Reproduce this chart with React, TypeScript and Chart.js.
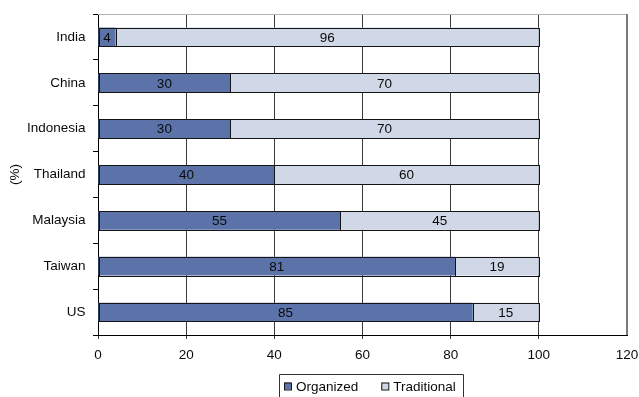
import React, { useEffect, useRef } from "react";
import { Chart, registerables } from "chart.js";

Chart.register(...registerables);

const countries = ["India", "China", "Indonesia", "Thailand", "Malaysia", "Taiwan", "US"];
const organized = [4, 30, 30, 40, 55, 81, 85];
const traditional = [96, 70, 70, 60, 45, 19, 15];
const seriesNames = ["Organized", "Traditional"];
const xTicksMax = 120;
const xStep = 20;
const yTitle = "(%)";

const FONT = "'Liberation Sans', Arial, sans-serif";
const FONT_SIZE = 13.5;
const DARK_BLUE = "#5b73a9";
const LIGHT_BLUE = "#d0d7e6";
const EDGE = "#141414";
const TEXT = "#0a0a0a";

// Crisp outlines around every bar piece, then its value in the middle
const segmentLabels = {
  id: "segmentLabels",
  afterDatasetsDraw(chart: any) {
    const ctx = chart.ctx;
    ctx.save();
    ctx.strokeStyle = EDGE;
    ctx.lineWidth = 1;
    chart.data.datasets.forEach((_ds: any, di: number) => {
      const meta = chart.getDatasetMeta(di);
      meta.data.forEach((bar: any) => {
        const l = Math.round(Math.min(bar.x, bar.base));
        const r = Math.round(Math.max(bar.x, bar.base));
        const t = Math.round(bar.y - bar.height / 2);
        const b = Math.round(bar.y + bar.height / 2);
        ctx.strokeRect(l + 0.5, t + 0.5, r - l, b - t);
      });
    });
    ctx.font = `${FONT_SIZE}px ${FONT}`;
    ctx.fillStyle = TEXT;
    ctx.textAlign = "center";
    ctx.textBaseline = "middle";
    chart.data.datasets.forEach((ds: any, di: number) => {
      const meta = chart.getDatasetMeta(di);
      meta.data.forEach((bar: any, i: number) => {
        const cx = (bar.x + bar.base) / 2;
        ctx.fillText(String(ds.data[i]), cx, bar.y + 1);
      });
    });
    ctx.restore();
  },
};

// Plot frame: light top edge and grey right edge
const frame = {
  id: "frame",
  beforeDatasetsDraw(chart: any) {
    const { ctx, chartArea } = chart;
    ctx.save();
    ctx.strokeStyle = "#b4b4b4";
    ctx.lineWidth = 1;
    ctx.beginPath();
    ctx.moveTo(chartArea.left, chartArea.top + 0.5);
    ctx.lineTo(chartArea.right, chartArea.top + 0.5);
    ctx.stroke();
    ctx.strokeStyle = "#7a7a7a";
    ctx.lineWidth = 2;
    ctx.beginPath();
    ctx.moveTo(chartArea.right, chartArea.top);
    ctx.lineTo(chartArea.right, chartArea.bottom);
    ctx.stroke();
    ctx.restore();
  },
};

// Boxed legend below the axis
const boxedLegend = {
  id: "boxedLegend",
  afterDraw(chart: any) {
    const ctx = chart.ctx;
    ctx.save();
    ctx.font = `${FONT_SIZE}px ${FONT}`;
    const boxLeft = 279;
    const boxTop = 374;
    const boxRight = 463;
    ctx.strokeStyle = "#333";
    ctx.lineWidth = 1;
    ctx.beginPath();
    ctx.moveTo(boxLeft + 0.5, chart.height + 2);
    ctx.lineTo(boxLeft + 0.5, boxTop + 0.5);
    ctx.lineTo(boxRight + 0.5, boxTop + 0.5);
    ctx.lineTo(boxRight + 0.5, chart.height + 2);
    ctx.stroke();
    const midY = 386;
    let x = boxLeft + 5;
    chart.data.datasets.forEach((ds: any) => {
      ctx.fillStyle = ds.backgroundColor;
      ctx.fillRect(x, midY - 3.5, 7, 7);
      ctx.strokeStyle = EDGE;
      ctx.strokeRect(x + 0.5, midY - 3.5 + 0.5, 7, 7);
      ctx.fillStyle = TEXT;
      ctx.textBaseline = "middle";
      ctx.textAlign = "left";
      ctx.fillText(ds.label, x + 12, midY + 1);
      x += 12 + ctx.measureText(ds.label).width + 23;
    });
    ctx.restore();
  },
};

export default function App() {
  const canvasRef = useRef<HTMLCanvasElement | null>(null);

  useEffect(() => {
    document.body.style.margin = "0";
    const canvas = canvasRef.current;
    if (!canvas) return;
    const chart = new Chart(canvas, {
      type: "bar",
      data: {
        labels: countries,
        datasets: [
          {
            label: seriesNames[0],
            data: organized,
            backgroundColor: DARK_BLUE,
            borderWidth: 0,
            barPercentage: 0.41,
            categoryPercentage: 1,
          },
          {
            label: seriesNames[1],
            data: traditional,
            backgroundColor: LIGHT_BLUE,
            borderWidth: 0,
            barPercentage: 0.41,
            categoryPercentage: 1,
          },
        ],
      },
      options: {
        indexAxis: "y",
        animation: false,
        responsive: false,
        maintainAspectRatio: false,
        layout: { padding: { top: 14, right: 12, bottom: 31, left: 0 } },
        plugins: {
          legend: { display: false },
          tooltip: { enabled: false },
        },
        scales: {
          x: {
            stacked: true,
            min: 0,
            max: xTicksMax,
            afterFit: (scale: any) => {
              scale.height = 31;
              scale.paddingRight = 0;
              scale.paddingLeft = 0;
            },
            ticks: {
              stepSize: xStep,
              color: TEXT,
              font: { family: FONT, size: FONT_SIZE },
              padding: 8,
            },
            grid: {
              color: (c: any) => (c.tick && c.tick.value === xTicksMax ? "rgba(0,0,0,0)" : "#3a3a3a"),
              tickLength: 4,
              lineWidth: 1,
            },
            border: { display: true, color: "#000", width: 1 },
          },
          y: {
            stacked: true,
            afterFit: (scale: any) => {
              scale.width = 98;
              scale.paddingTop = 0;
              scale.paddingBottom = 0;
            },
            ticks: {
              color: TEXT,
              font: { family: FONT, size: FONT_SIZE },
              padding: 7.5,
            },
            grid: {
              drawOnChartArea: false,
              drawTicks: true,
              tickLength: 5,
              color: "#000",
              offset: true,
            },
            border: { display: true, color: "#000", width: 1 },
            title: {
              display: true,
              text: yTitle,
              color: TEXT,
              font: { family: FONT, size: FONT_SIZE },
              padding: { top: 7, bottom: 0 },
            },
          },
        },
      },
      plugins: [frame, segmentLabels, boxedLegend],
    });
    return () => chart.destroy();
  }, []);

  return (
    <div style={{ width: 639, height: 397, position: "relative" }}>
      <canvas ref={canvasRef} width={639} height={397} style={{ display: "block" }} />
    </div>
  );
}
